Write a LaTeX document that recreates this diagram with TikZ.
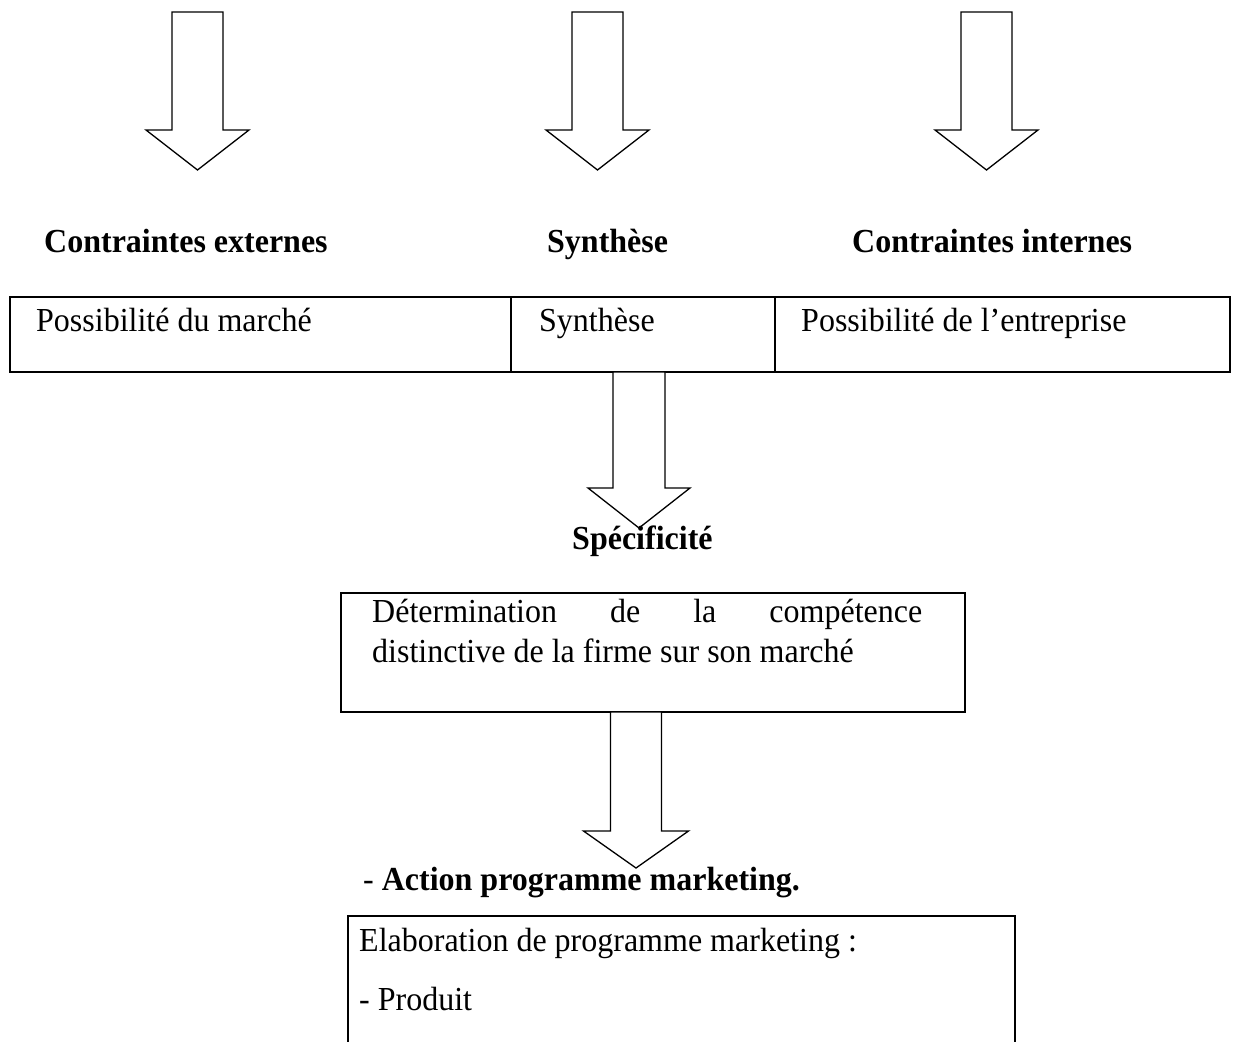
\documentclass[tikz,border=0pt]{standalone}
\usepackage{fontspec}
\usepackage{graphicx}
\setmainfont{Liberation Serif}
% hollow downward block arrow: centre x, top y, shoulder y, tip y, half shaft width, half head width
\newcommand\blockdown[6]{%
  \draw[blockarrow] (#1-#5,#2) -- (#1+#5,#2) -- (#1+#5,#3) -- (#1+#6,#3)
    -- (#1,#4) -- (#1-#6,#3) -- (#1-#5,#3) -- cycle;}
% slightly taller lettering
\newcommand\tall[1]{\scalebox{1}[1.05]{#1}}
\begin{document}
\begin{tikzpicture}[x=1pt,y=-1pt,
  lbl/.style={inner sep=0pt, anchor=base west, font=\fontsize{32}{40}\selectfont},
  hdr/.style={inner sep=0pt, anchor=base west, font=\fontsize{32}{40}\selectfont\bfseries},
  frame/.style={draw=black, line width=1.8pt},
  blockarrow/.style={draw=black, line width=1.3pt, fill=white, line join=miter}]
\useasboundingbox (0,0) rectangle (1239,1041);

% three incoming arrows
\blockdown{197.5}{12}{130}{170}{25.5}{51.5}
\blockdown{597.5}{12}{130}{170}{25.5}{51.5}
\blockdown{986.5}{12}{130}{170}{25.5}{51.5}

% column headings
\node[hdr] (ce) at (44,252) {\tall{Contraintes externes}};
\node[hdr] (sy) at (547,252) {\tall{Synthèse}};
\node[hdr] (ci) at (852,252) {\tall{Contraintes internes}};

% three-column table
\coordinate (tA) at (10,297);
\coordinate (tB) at (1230,372);
\draw[frame] (tA) rectangle (tB);
\draw[frame] (511,297) -- (511,372);
\draw[frame] (775,297) -- (775,372);
\node[lbl] (pm) at (36,331) {\tall{Possibilité du marché}};
\node[lbl] (st) at (539,331) {\tall{Synthèse}};
\node[lbl] (pe) at (801,331) {\tall{Possibilité de l’entreprise}};

% table -> specificity
\blockdown{639}{372}{488}{528}{26}{51}
\node[hdr] (sp) at (572,549) {\tall{Spécificité}};

% distinctive competence box
\draw[frame] (341,593) rectangle (965,712);
\node[lbl] (d1) at (372,622) {\tall{\makebox[550pt][s]{Détermination de la compétence}}};
\node[lbl] (d2) at (372,662) {\tall{distinctive de la firme sur son marché}};

% box -> marketing programme
\blockdown{636}{712}{831}{868}{25.5}{52.5}
\node[lbl] (ac) at (363,890) {\tall{- \textbf{Action programme marketing.}}};

% marketing programme box (runs past the lower edge)
\draw[frame] (348,1060) -- (348,916) -- (1015,916) -- (1015,1060);
\node[lbl] (el) at (359,951) {\tall{Elaboration de programme marketing :}};
\node[lbl] (pr) at (359,1010) {\tall{- Produit}};
\end{tikzpicture}
\end{document}
